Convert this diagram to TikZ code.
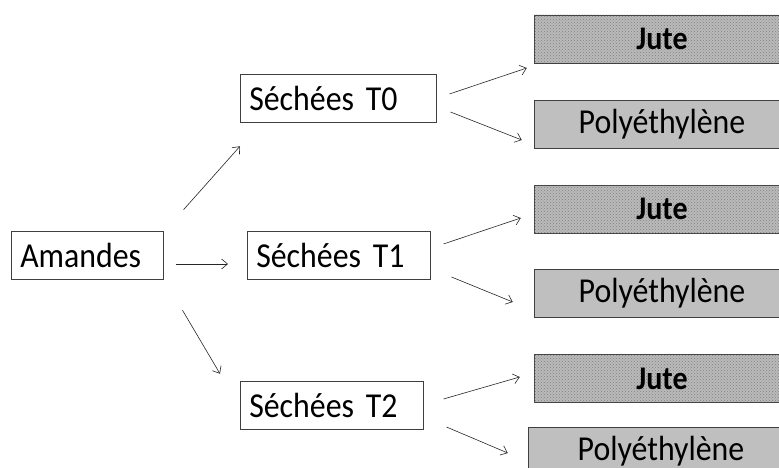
\documentclass[tikz,border=0pt]{standalone}
\usepackage{fontspec}
\setmainfont{Carlito}[FakeStretch = 0.91]
\usepackage{tikz}
\usetikzlibrary{shapes, arrows, arrows.meta, patterns}
\usetikzlibrary{positioning}
\tikzstyle{lot} = [rectangle, minimum height = 48, draw = black!75,
  line width = 0.5, inner xsep = 9, anchor = west, align = left,
  font = \fontsize{35}{38}\selectfont]
\tikzstyle{sac} = [
  rectangle, minimum width = 256, minimum height = 48,
  draw = black!75, line width = 0.5, fill = black!25, text centered,
  font = \fontsize{35}{38}\selectfont
]
\tikzstyle{jute} = [sac, fill = black!27,
  postaction = {pattern = crosshatch dots, pattern color = black!50},
  font = \fontsize{33}{38}\selectfont\bfseries]
\tikzstyle{fl} = [-{Straight Barb[length = 6, width = 10]}, line width = 0.6,
  draw = black!85]

\begin{document}
\begin{tikzpicture}[x = 1pt, y = -1pt]
      \clip (0, 0) rectangle (779, 468);
      \node [lot, text width = 134] (box-a) at (11, 255) {Amandes};
      \node [lot, text width = 178] (box-t0) at (240, 98) {Séchées T0};
      \node [lot, text width = 165] (box-t1) at (247, 255) {Séchées T1};
      \node [lot, text width = 165] (box-t2) at (240, 405) {Séchées T2};

      \node [jute] (jute-t0) at (662, 39) {Jute};
      \node [sac] (poly-t0) at (662, 124) {Polyéthylène};
      \node [jute] (jute-t1) at (662, 209) {Jute};
      \node [sac] (poly-t1) at (662, 293) {Polyéthylène};
      \node [jute] (jute-t2) at (662, 378.5) {Jute};
      \node [sac, minimum width = 266] (poly-t2) at (661, 451) {Polyéthylène};

      \draw [fl] ([shift = {(20, -21)}]box-a.north east) -- ([shift = {(0, 24)}]box-t0.south west);
      \draw [fl] ([shift = {(12, 9)}]box-a.east) -- ([shift = {(-19, 9)}]box-t1.west);
      \draw [fl] ([shift = {(19, 31)}]box-a.south east) -- ([shift = {(-20, -7)}]box-t2.north west);

      \draw [fl] ([shift = {(13, -4)}]box-t0.east) -- ([shift = {(-7, 29)}]jute-t0.west);
      \draw [fl] ([shift = {(14, 14)}]box-t0.east) -- ([shift = {(-12, 16)}]poly-t0.west);
      \draw [fl] ([shift = {(13, -11)}]box-t1.east) -- ([shift = {(-13, 9)}]jute-t1.west);
      \draw [fl] ([shift = {(21, 22)}]box-t1.east) -- ([shift = {(-21, 9)}]poly-t1.west);
      \draw [fl] ([shift = {(20, -6)}]box-t2.east) -- ([shift = {(-14, -1.5)}]jute-t2.west);
      \draw [fl] ([shift = {(23, 22)}]box-t2.east) -- ([shift = {(-20, 2)}]poly-t2.west);
    \end{tikzpicture}
\end{document}
